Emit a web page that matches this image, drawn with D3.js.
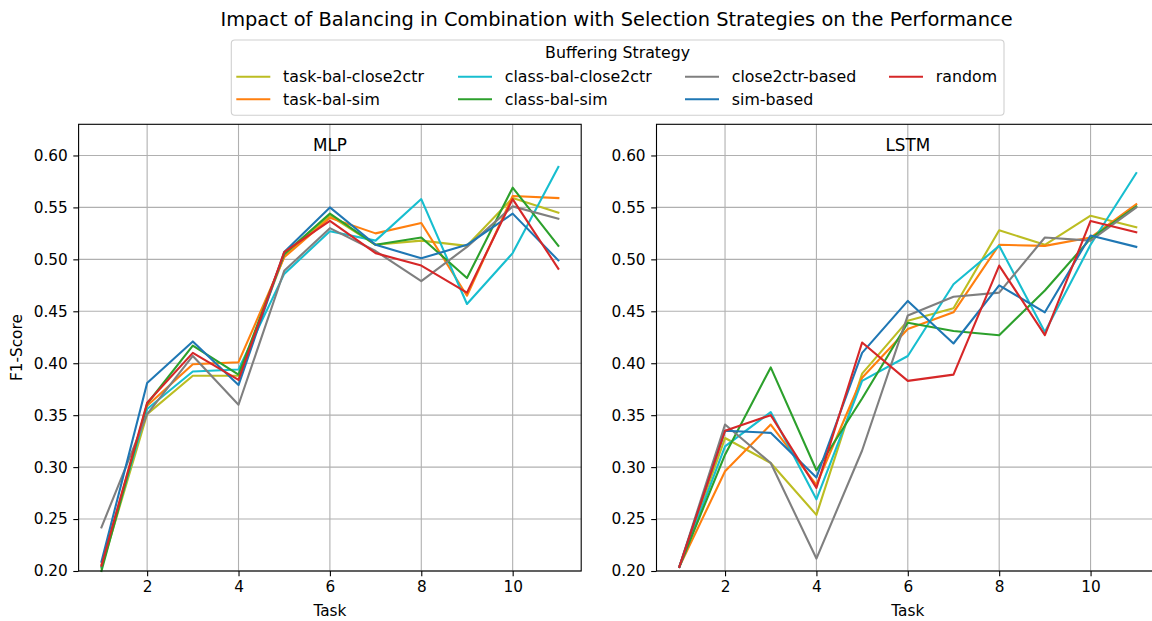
<!DOCTYPE html>
<html>
<head>
<meta charset="utf-8">
<script src="https://cdn.jsdelivr.net/npm/d3@7"></script>
<style>
  html, body { margin: 0; padding: 0; background: #fff; }
  svg { display: block; font-family: "DejaVu Sans", sans-serif; }
</style>
</head>
<body>
<svg id="chart" width="1152" height="621"></svg>
<script>
// Tasks on the x axis
const tasks = [1, 2, 3, 4, 5, 6, 7, 8, 9, 10, 11];
const xTicks = [2, 4, 6, 8, 10];
const yTicks = [0.20, 0.25, 0.30, 0.35, 0.40, 0.45, 0.50, 0.55, 0.60];

// Buffering strategies (legend order) and their colours
const strategies = ["task-bal-close2ctr", "task-bal-sim", "class-bal-close2ctr", "class-bal-sim",
                    "close2ctr-based", "sim-based", "random"];
const colors = ["#bcbd22", "#ff7f0e", "#17becf", "#2ca02c", "#7f7f7f", "#1f77b4", "#d62728"];

// F1-scores per task, MLP model
const mlpTaskBalClose2ctr  = [0.203, 0.351, 0.388, 0.388, 0.503, 0.542, 0.514, 0.518, 0.513, 0.559, 0.545];
const mlpTaskBalSim        = [0.206, 0.359, 0.399, 0.401, 0.502, 0.540, 0.525, 0.535, 0.465, 0.561, 0.559];
const mlpClassBalClose2ctr = [0.204, 0.356, 0.392, 0.394, 0.486, 0.527, 0.518, 0.558, 0.457, 0.506, 0.589];
const mlpClassBalSim       = [0.200, 0.361, 0.417, 0.389, 0.505, 0.544, 0.514, 0.521, 0.482, 0.569, 0.513];
const mlpClose2ctrBased    = [0.242, 0.351, 0.407, 0.360, 0.489, 0.530, 0.508, 0.479, 0.512, 0.551, 0.539];
const mlpSimBased          = [0.209, 0.381, 0.421, 0.379, 0.507, 0.550, 0.514, 0.501, 0.514, 0.544, 0.499];
const mlpRandom            = [0.205, 0.362, 0.410, 0.384, 0.507, 0.537, 0.506, 0.494, 0.468, 0.558, 0.491];

// F1-scores per task, LSTM model
const lstmTaskBalClose2ctr  = [0.204, 0.328, 0.304, 0.254, 0.390, 0.441, 0.453, 0.528, 0.514, 0.542, 0.531];
const lstmTaskBalSim        = [0.204, 0.296, 0.341, 0.283, 0.386, 0.433, 0.449, 0.514, 0.513, 0.521, 0.553];
const lstmClassBalClose2ctr = [0.204, 0.320, 0.353, 0.269, 0.383, 0.407, 0.476, 0.513, 0.430, 0.514, 0.583];
const lstmClassBalSim       = [0.204, 0.312, 0.396, 0.297, 0.366, 0.439, 0.431, 0.427, 0.470, 0.520, 0.551];
const lstmClose2ctrBased    = [0.204, 0.341, 0.304, 0.212, 0.316, 0.446, 0.464, 0.468, 0.521, 0.518, 0.550];
const lstmSimBased          = [0.204, 0.335, 0.333, 0.290, 0.410, 0.460, 0.419, 0.475, 0.449, 0.523, 0.512];
const lstmRandom            = [0.204, 0.335, 0.350, 0.280, 0.420, 0.383, 0.389, 0.494, 0.427, 0.537, 0.526];

const panels = [
  { name: "MLP", left: 78.6, series: [mlpTaskBalClose2ctr, mlpTaskBalSim, mlpClassBalClose2ctr, mlpClassBalSim,
                                      mlpClose2ctrBased, mlpSimBased, mlpRandom] },
  { name: "LSTM", left: 656.5, series: [lstmTaskBalClose2ctr, lstmTaskBalSim, lstmClassBalClose2ctr, lstmClassBalSim,
                                        lstmClose2ctrBased, lstmSimBased, lstmRandom] }
];

const svg = d3.select("#chart");
const plotTop = 124.3, plotBottom = 571, panelW = 502.6;
const gridColor = "#b0b0b0";

// Figure title
svg.append("text")
  .attr("x", 616.5).attr("y", 25.5)
  .attr("text-anchor", "middle")
  .attr("font-size", 19.4)
  .attr("fill", "#000")
  .text("Impact of Balancing in Combination with Selection Strategies on the Performance");

panels.forEach((p, pi) => {
  const x = d3.scaleLinear().domain([0.5, 11.5]).range([p.left, p.left + panelW]);
  const y = d3.scaleLinear().domain([0.2, 0.63]).range([plotBottom, plotTop]);
  const g = svg.append("g");

  // grid
  g.append("g").selectAll("line").data(xTicks).join("line")
    .attr("x1", d => x(d)).attr("x2", d => x(d))
    .attr("y1", plotTop).attr("y2", plotBottom)
    .attr("stroke", gridColor).attr("stroke-width", 1.1);
  g.append("g").selectAll("line").data(yTicks).join("line")
    .attr("x1", p.left).attr("x2", p.left + panelW)
    .attr("y1", d => y(d)).attr("y2", d => y(d))
    .attr("stroke", gridColor).attr("stroke-width", 1.1);

  // series lines
  const line = d3.line().x((d, i) => x(tasks[i])).y(d => y(d));
  g.append("g").selectAll("path").data(p.series).join("path")
    .attr("d", d => line(d))
    .attr("fill", "none")
    .attr("stroke", (d, i) => colors[i])
    .attr("stroke-width", 2.1)
    .attr("stroke-linejoin", "round")
    .attr("stroke-linecap", "square");

  // frame
  g.append("rect")
    .attr("x", p.left).attr("y", plotTop)
    .attr("width", panelW).attr("height", plotBottom - plotTop)
    .attr("fill", "none").attr("stroke", "#000").attr("stroke-width", 1.1);

  // axes
  const xAxis = d3.axisBottom(x).tickValues(xTicks).tickSize(5.3).tickPadding(5.2).tickFormat(d3.format("d"));
  const gx = g.append("g").attr("transform", `translate(0,${plotBottom})`).call(xAxis);
  const yAxis = d3.axisLeft(y).tickValues(yTicks).tickSize(5.3).tickPadding(5.6).tickFormat(d3.format(".2f"));
  const gy = g.append("g").attr("transform", `translate(${p.left},0)`).call(yAxis);
  [gx, gy].forEach(a => {
    a.select(".domain").remove();
    a.selectAll(".tick line").attr("stroke", "#000").attr("stroke-width", 1.1);
    a.selectAll(".tick text").attr("font-size", 15.3).attr("fill", "#000")
      .attr("font-family", "DejaVu Sans, sans-serif");
  });

  // panel title inside the axes
  g.append("text")
    .attr("x", x(6)).attr("y", 150.5)
    .attr("text-anchor", "middle")
    .attr("font-size", 16.8)
    .text(p.name);

  // axis labels
  g.append("text")
    .attr("x", x(6)).attr("y", 615.5)
    .attr("text-anchor", "middle")
    .attr("font-size", 15.3)
    .text("Task");
  if (pi === 0) {
    g.append("text")
      .attr("transform", `translate(22,${(plotTop + plotBottom) / 2}) rotate(-90)`)
      .attr("text-anchor", "middle")
      .attr("font-size", 15.3)
      .text("F1-Score");
  }
});

// Legend
const lg = svg.append("g");
lg.append("rect")
  .attr("x", 231.3).attr("y", 40).attr("width", 772.7).attr("height", 75.3)
  .attr("rx", 3.5).attr("ry", 3.5)
  .attr("fill", "#fff").attr("fill-opacity", 0.8)
  .attr("stroke", "#d0d0d0").attr("stroke-width", 1.1);
lg.append("text")
  .attr("x", 617.6).attr("y", 57.6)
  .attr("text-anchor", "middle")
  .attr("font-size", 15.8)
  .text("Buffering Strategy");

const colX = [236.3, 458, 685, 889];
const rowY = [76.7, 99.3];
strategies.forEach((s, i) => {
  const col = Math.floor(i / 2), row = i % 2;
  const cx = colX[col], cy = rowY[row];
  lg.append("line")
    .attr("x1", cx).attr("x2", cx + 34)
    .attr("y1", cy).attr("y2", cy)
    .attr("stroke", colors[i]).attr("stroke-width", 2.1);
  lg.append("text")
    .attr("x", cx + 46.8).attr("y", cy)
    .attr("dy", "0.36em")
    .attr("font-size", 15.8)
    .text(s);
});
</script>
</body>
</html>
